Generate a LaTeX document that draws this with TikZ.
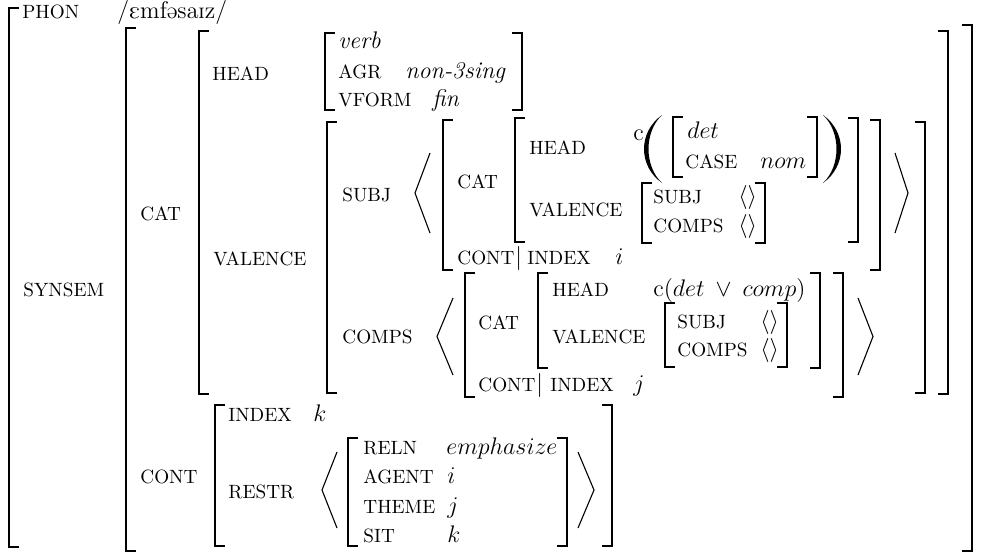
\documentclass[tikz,border=0pt]{standalone}
\IfFileExists{tipa.sty}{\usepackage{tipa}\newcommand\ipaword{\textipa{/Emf@saIz/}}}{\usepackage{fontspec}\newfontfamily\ipafont{DejaVu Serif}\newcommand\ipaword{{\ipafont /ɛmfəsaɪz/}}}
\newcommand\avmL[3]{\draw[brk] ({#1+10},#2) -- (#1,#2) -- (#1,#3) -- ({#1+10},#3);}
\newcommand\avmR[3]{\draw[brk] ({#1-10},#2) -- (#1,#2) -- (#1,#3) -- ({#1-10},#3);}
\newcommand\angL[4]{\draw[ang] (#2,#3) -- (#1,{(#3+#4)/2}) -- (#2,#4);}
\tikzset{
  brk/.style={line width=0.8pt},
  ang/.style={line width=0.55pt},
  lbl/.style={anchor=base west, inner sep=0pt, font=\fontsize{9.6}{11}\selectfont},
  val/.style={anchor=base west, inner sep=0pt, font=\fontsize{12}{14}\selectfont},
  ival/.style={anchor=base west, inner sep=0pt, font=\fontsize{12}{14}\selectfont\itshape},
}
\begin{document}
\begin{tikzpicture}[x=0.5pt,y=-0.5pt]
\useasboundingbox (0,0) rectangle (985,552);
% outer AVM
\avmL{9}{8}{547}
\node[lbl] (phon) at (22,18) {PHON};
\node[val] (ipa) at (117,18) {\ipaword};
\node[lbl] (synsem) at (23,296) {SYNSEM};
% synsem value
\avmL{126}{28}{551}
\avmR{972}{25}{551}
\node[lbl] (cat1) at (140,220) {CAT};
\node[lbl] (cont1) at (140,483) {CONT};
% cat value
\avmL{199}{31}{394}
\avmR{948}{31}{394}
\node[lbl] (head1) at (212,80) {HEAD};
\avmL{325}{33}{110}
\avmR{522}{33}{110}
\node[ival] (verb) at (338,48) {verb};
\node[lbl] (agr) at (338,78) {AGR};
\node[ival] (non3) at (405,78) {non-3sing};
\node[lbl] (vform) at (338,106) {VFORM};
\node[ival] (fin) at (432,106) {fin};
\node[lbl] (val1) at (213,265) {VALENCE};
% valence value
\avmL{327}{122}{393}
\avmR{925}{122}{393}
\node[lbl] (subj1) at (342,201) {SUBJ};
\node[lbl] (comps1) at (342,343) {COMPS};
% subj list
\angL{415}{430}{153}{233}
\angL{908}{895}{153}{233}
\avmL{443}{120}{270}
\avmR{880}{120}{270}
\node[lbl] (cat2) at (457,188) {CAT};
\avmL{515}{118}{242}
\avmR{858}{118}{242}
\node[lbl] (head2) at (529,154) {HEAD};
\node[val] (c1) at (633,140) {c};
\fill (662,115) .. controls (638,132) and (638,166) .. (662,183)
      .. controls (644,166) and (644,132) .. (662,115) -- cycle;
\fill (823,115) .. controls (847,132) and (847,166) .. (823,183)
      .. controls (841,166) and (841,132) .. (823,115) -- cycle;
\avmL{673}{117}{177}
\avmR{817}{117}{177}
\node[val] (det1) at (687,138) {$det$};
\node[lbl] (case) at (685,168) {CASE};
\node[val] (nom) at (760,168) {$nom$};
\node[lbl] (val2) at (529,216) {VALENCE};
\avmL{642}{183}{243}
\avmR{765}{183}{243}
\node[lbl] (subj2) at (653,203) {SUBJ};
\node[val] (e1) at (738,203) {$\langle\rangle$};
\node[lbl] (comps2) at (653,232) {COMPS};
\node[val] (e2) at (738,232) {$\langle\rangle$};
\node[lbl] (cont2) at (457,264) {CONT};
\node[val, anchor=base west] (bar1) at (cont2.base east) {$\big|$};
\node[lbl] (index1) at (527,264) {INDEX};
\node[val] (i1) at (615,264) {$i$};
% comps list
\angL{437}{453}{298}{375}
\angL{873}{858}{298}{375}
\avmL{465}{273}{397}
\avmR{843}{273}{397}
\node[lbl] (cat3) at (478,329) {CAT};
\avmL{538}{273}{368}
\avmR{820}{273}{368}
\node[lbl] (head3) at (552,296) {HEAD};
\node[val] (c2) at (653,296) {c$(det$\hspace{5.5pt}$\vee$\hspace{5.5pt}$comp)$};
\node[lbl] (val3) at (552,343) {VALENCE};
\avmL{665}{303}{367}
\avmR{787}{303}{367}
\node[lbl] (subj3) at (677,328) {SUBJ};
\node[val] (e3) at (760,328) {$\langle\rangle$};
\node[lbl] (comps3) at (677,356) {COMPS};
\node[val] (e4) at (760,356) {$\langle\rangle$};
\node[lbl] (cont3) at (478,391) {CONT};
\node[val, anchor=base west] (bar2) at (cont3.base east) {$\big|$};
\node[lbl] (index2) at (550,391) {INDEX};
\node[val] (j1) at (633,391) {$j$};
% cont value
\avmL{215}{405}{546}
\avmR{612}{405}{546}
\node[lbl] (index3) at (228,421) {INDEX};
\node[val] (k1) at (313,421) {$k$};
\node[lbl] (restr) at (228,498) {RESTR};
\angL{322}{337}{452}{528}
\angL{594}{578}{452}{528}
\avmL{348}{438}{546}
\avmR{567}{438}{546}
\node[lbl] (reln) at (363,454) {RELN};
\node[val] (emph) at (446,454) {$emphasize$};
\node[lbl] (agent) at (363,483) {AGENT};
\node[val] (i2) at (447,483) {$i$};
\node[lbl] (theme) at (363,513) {THEME};
\node[val] (j2) at (447,513) {$j$};
\node[lbl] (sit) at (363,542) {SIT};
\node[val] (k2) at (447,542) {$k$};
\end{tikzpicture}
\end{document}
